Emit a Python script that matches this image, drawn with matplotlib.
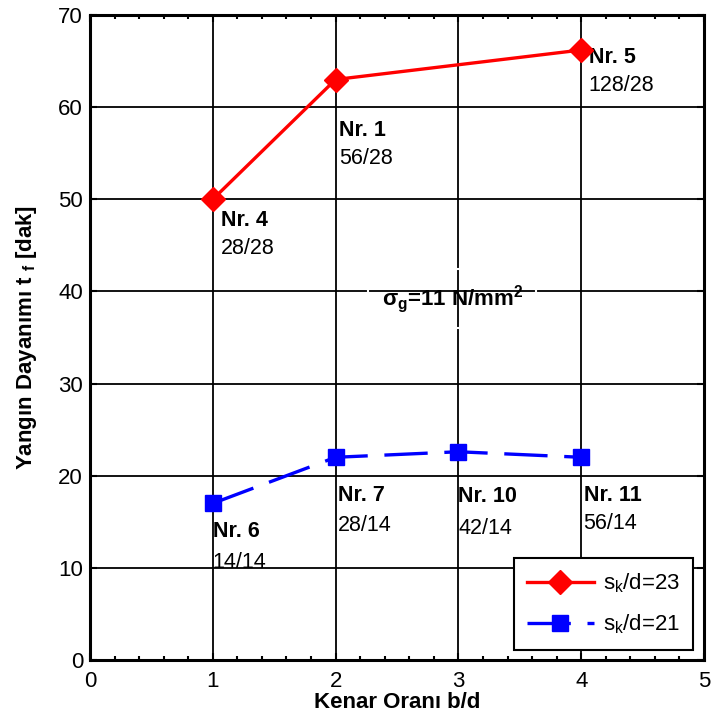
import matplotlib
matplotlib.use("Agg")
import matplotlib.pyplot as plt
from matplotlib.ticker import MultipleLocator

plt.rcParams["font.family"] = ["Liberation Sans", "DejaVu Sans"]
plt.rcParams["mathtext.fontset"] = "custom"
plt.rcParams["mathtext.rm"] = "Liberation Sans"
plt.rcParams["mathtext.bf"] = "Liberation Sans:bold"
plt.rcParams["mathtext.it"] = "Liberation Sans:italic"

# Series: edge ratio b/d vs. fire resistance t_f [min]
ratio_23 = [1, 2, 4]
tf_23 = [50.0, 63.0, 66.2]
names_23 = ["Nr. 4", "Nr. 1", "Nr. 5"]
dims_23 = ["28/28", "56/28", "128/28"]

ratio_21 = [1, 2, 3, 4]
tf_21 = [17.0, 22.0, 22.6, 22.0]
names_21 = ["Nr. 6", "Nr. 7", "Nr. 10", "Nr. 11"]
dims_21 = ["14/14", "28/14", "42/14", "56/14"]

# label placement relative to each point (data units): dx, dy name, dy dims
off_23 = [(0.065, -2.25, -5.3), (0.03, -5.5, -8.6), (0.06, -0.8, -3.9)]
off_21 = [(0.0, -3.1, -6.4), (0.02, -4.2, -7.4), (0.0, -4.9, -8.3),
          (0.02, -4.2, -7.2)]

fig = plt.figure(figsize=(7.11, 7.22), dpi=100)
ax = fig.add_axes([90 / 711, 62 / 722, 614 / 711, 645 / 722])

ax.plot(ratio_23, tf_23, color="red", lw=2.4, marker="D", ms=12,
        label=r"s$_\mathregular{k}$/d=23", zorder=4)
ax.plot(ratio_21, tf_21, color="blue", lw=2.4, marker="s", ms=12,
        dashes=(13, 5), label=r"s$_\mathregular{k}$/d=21", zorder=4)

for x, y, n, d, (dx, dn, dd) in zip(ratio_23, tf_23, names_23, dims_23, off_23):
    ax.text(x + dx, y + dn, n, fontsize=15.5, fontweight="bold",
            ha="left", va="center")
    ax.text(x + dx, y + dd, d, fontsize=15.5, ha="left", va="center")

for x, y, n, d, (dx, dn, dd) in zip(ratio_21, tf_21, names_21, dims_21, off_21):
    ax.text(x + dx, y + dn, n, fontsize=15.5, fontweight="bold",
            ha="left", va="center")
    ax.text(x + dx, y + dd, d, fontsize=15.5, ha="left", va="center")

ax.text(2.95, 39.2, r"$\mathregular{\sigma_g}$=11 N/mm$^\mathregular{2}$",
        fontsize=16, fontweight="bold", ha="center", va="center",
        bbox=dict(boxstyle="square,pad=0.6", facecolor="none",
                  edgecolor="white", lw=1.5), zorder=5)

ax.set_xlim(0, 5)
ax.set_ylim(0, 70)
ax.xaxis.set_major_locator(MultipleLocator(1))
ax.xaxis.set_minor_locator(MultipleLocator(0.2))
ax.yaxis.set_major_locator(MultipleLocator(10))
ax.grid(True, which="major", color="black", lw=1.3)
ax.set_axisbelow(True)
ax.tick_params(which="both", direction="in", top=True, right=True,
               labelsize=16, width=1.5)
ax.tick_params(which="major", length=5, pad=5)
ax.tick_params(axis="x", which="major", pad=8)
ax.tick_params(which="minor", length=3)
for s in ax.spines.values():
    s.set_linewidth(2.2)

ax.set_xlabel("Kenar Oranı b/d", fontsize=16, fontweight="bold", labelpad=0)
ax.set_ylabel(r"Yangın Dayanımı t $_\mathregular{f}$ [dak]", fontsize=16,
              fontweight="bold", labelpad=14)

leg = ax.legend(loc="lower right", fontsize=16, fancybox=False,
                edgecolor="black", framealpha=1, handlelength=3.0,
                handletextpad=0.4, borderpad=0.6, labelspacing=0.8,
                borderaxespad=0, bbox_to_anchor=(0.982, 0.016))
leg.get_frame().set_linewidth(1.5)

fig.savefig("out.png", dpi=100)
